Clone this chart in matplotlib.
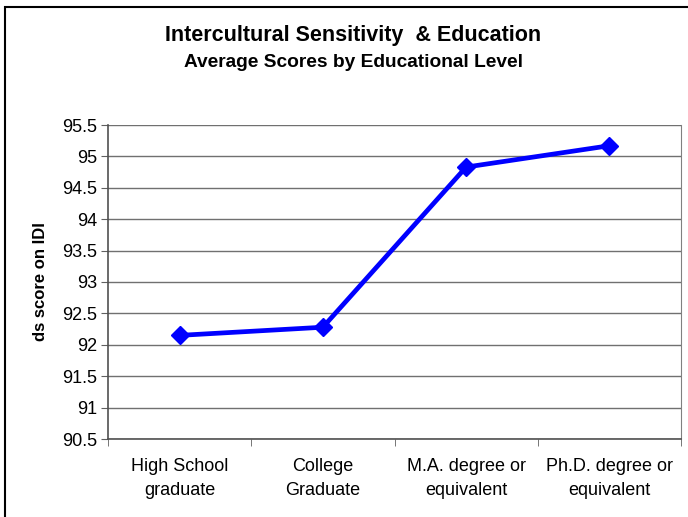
import matplotlib.pyplot as plt
from matplotlib.patches import Rectangle
import numpy as np

plt.rcParams['font.family'] = ['Liberation Sans', 'DejaVu Sans']

categories = ['High School\ngraduate', 'College\nGraduate',
              'M.A. degree or\nequivalent', 'Ph.D. degree or\nequivalent']
scores = [92.15, 92.28, 94.83, 95.17]
yticks = [90.5, 91, 91.5, 92, 92.5, 93, 93.5, 94, 94.5, 95, 95.5]
ytick_labels = ['90.5', '91', '91.5', '92', '92.5', '93', '93.5', '94', '94.5', '95', '95.5']

fig = plt.figure(figsize=(6.88, 5.17), dpi=100)
ax = fig.add_axes([108 / 688, 78 / 517, 573 / 688, 314 / 517])

x = np.arange(len(categories))
ax.plot(x, scores, color='#0000ff', linewidth=3.4, marker='D', markersize=9,
        solid_joinstyle='miter', zorder=3, clip_on=False)

ax.set_xlim(-0.5, len(categories) - 0.5)
ax.set_ylim(90.5, 95.5)
ax.set_yticks(yticks)
ax.set_yticklabels(ytick_labels, fontsize=13)
ax.set_xticks(x)
ax.set_xticklabels(categories, fontsize=13, linespacing=1.5)
ax.tick_params(axis='x', length=0, pad=14)
ax.set_xticks(np.arange(-0.5, len(categories), 1), minor=True)
ax.tick_params(axis='x', which='minor', length=5, direction='out', color='#606060')
ax.tick_params(axis='y', length=5, direction='out', color='#606060', pad=3)

ax.grid(axis='y', color='#707070', linewidth=1)
ax.set_axisbelow(True)

ax.spines['top'].set_visible(False)
ax.spines['right'].set_color('#808080')
ax.spines['left'].set_color('#505050')
ax.spines['bottom'].set_color('#505050')
ax.spines['left'].set_linewidth(1.2)
ax.spines['bottom'].set_linewidth(1.2)

ax.set_ylabel('ds score on IDI', fontsize=12, fontweight='bold', labelpad=10)

fig.text(353 / 688, 1 - 35 / 517, 'Intercultural Sensitivity  & Education',
         ha='center', va='center', fontsize=15.5, fontweight='bold')
fig.text(353 / 688, 1 - 63 / 517, 'Average Scores by Educational Level',
         ha='center', va='center', fontsize=13.8, fontweight='bold')

# outer chart frame
fig.patches.append(Rectangle((5 / 688, -0.1), 1.2, 1 - 7 / 517 + 0.1,
                             transform=fig.transFigure, fill=False,
                             edgecolor='black', linewidth=1.5))

fig.savefig('out.png', dpi=100)
